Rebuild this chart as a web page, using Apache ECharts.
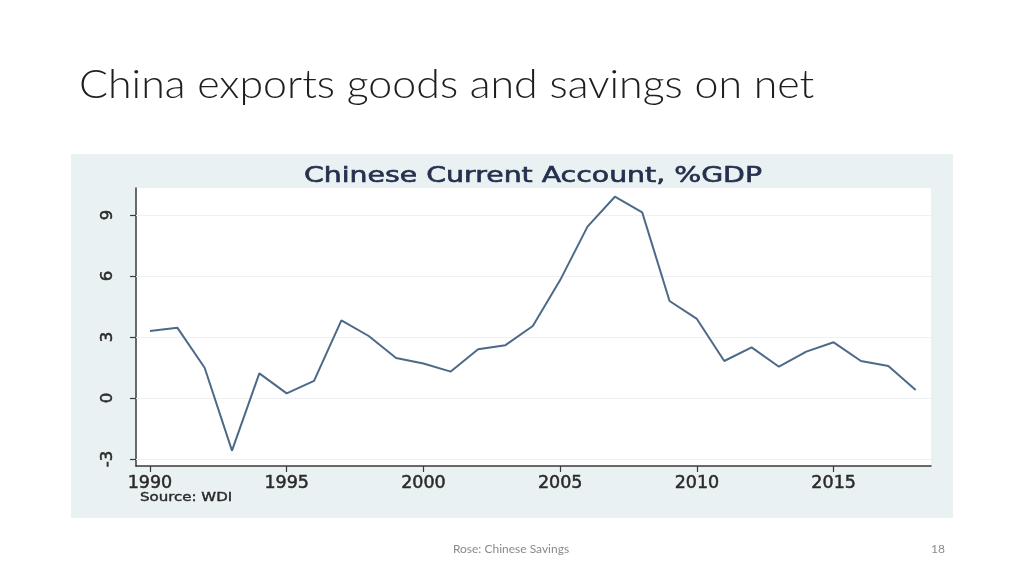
<!DOCTYPE html>
<html>
<head>
<meta charset="utf-8">
<script src="https://cdn.jsdelivr.net/npm/echarts@6/dist/echarts.min.js"></script>
<style>
html,body{margin:0;padding:0;background:#fff;}
#c{width:1024px;height:576px;}
</style>
</head>
<body>
<div id="c"></div>
<script>
const years = [1990,1991,1992,1993,1994,1995,1996,1997,1998,1999,2000,2001,2002,2003,2004,2005,2006,2007,2008,2009,2010,2011,2012,2013,2014,2015,2016,2017,2018];
const currentAccount = [3.3,3.46,1.49,-2.59,1.21,0.23,0.84,3.82,3.05,1.97,1.7,1.3,2.4,2.6,3.54,5.8,8.43,9.9,9.13,4.77,3.89,1.82,2.49,1.54,2.28,2.74,1.82,1.57,0.39];
const xTicks = [1990,1995,2000,2005,2010,2015];
const yTicks = [-3,0,3,6,9];
const slideTitle = 'China exports goods and savings on net';
const chartTitle = 'Chinese Current Account, %GDP';
const sourceNote = 'Source: WDI';
const footerText = 'Rose: Chinese Savings';
const pageNumber = '18';

const chart = echarts.init(document.getElementById('c'), null, {renderer:'canvas'});
const option = {
  animation: false,
  backgroundColor: '#ffffff',
  graphic: [
    {type:'rect', shape:{x:71,y:154,width:882,height:364}, style:{fill:'#eaf1f3'}, z:-10},
    {type:'text', x:79, y:85, originX:0, originY:0, scaleX:1.1, style:{text:slideTitle, font:'300 39px Lato', fill:'#1e1e1e', align:'left', verticalAlign:'middle'}},
    {type:'text', x:533, y:177, originX:0, originY:0, scaleX:1.35, style:{text:chartTitle, font:'21px "DejaVu Sans"', fill:'#24304d', stroke:'#24304d', lineWidth:0.6, align:'center', verticalAlign:'middle'}},
    {type:'text', x:140, y:498, originX:0, originY:0, scaleX:1.25, style:{text:sourceNote, font:'12px "DejaVu Sans"', fill:'#2a2a2a', stroke:'#2a2a2a', lineWidth:0.4, align:'left', verticalAlign:'middle'}},
    {type:'text', x:511, y:549, style:{text:footerText, font:'12px Lato', fill:'#8a8a8a', align:'center', verticalAlign:'middle'}},
    {type:'text', x:938, y:549, style:{text:pageNumber, font:'12px Lato', fill:'#8a8a8a', align:'center', verticalAlign:'middle'}}
  ],
  grid: {left:136, top:188, width:795, height:278, show:true, backgroundColor:'#ffffff', borderWidth:0, containLabel:false},
  xAxis: {
    type:'value', min:1989.49, max:2018.56,
    axisLine:{show:true, onZero:false, lineStyle:{color:'#3a3a3a', width:1.5}},
    axisTick:{show:true, length:6, customValues:xTicks, lineStyle:{color:'#3a3a3a', width:1.2}},
    axisLabel:{customValues:xTicks, formatter:v=>String(v), margin:8, color:'#2a2a2a', textBorderColor:'#2a2a2a', textBorderWidth:0.5, fontFamily:'DejaVu Sans', fontSize:17.5},
    splitLine:{show:false}
  },
  yAxis: {
    type:'value', min:-3.344, max:10.33,
    axisLine:{show:true, onZero:false, lineStyle:{color:'#3a3a3a', width:1.5}},
    axisTick:{show:true, length:6, customValues:yTicks, lineStyle:{color:'#3a3a3a', width:1.2}},
    axisLabel:{customValues:yTicks, formatter:v=>String(v), rotate:90, margin:20, color:'#2a2a2a', textBorderColor:'#2a2a2a', textBorderWidth:0.5, fontFamily:'DejaVu Sans', fontSize:16.5},
    splitLine:{show:false}
  },
  series: [
    {
      type:'line', name:'grid', silent:true, data:[], symbol:'none',
      markLine:{silent:true, symbol:'none', label:{show:false}, lineStyle:{color:'#edf1f4', width:1.2, type:'solid'}, data: yTicks.map(v=>({yAxis:v}))}
    },
    {
      type:'line', name:'Current account', symbol:'none',
      data: years.map((y,i)=>[y,currentAccount[i]]),
      lineStyle:{color:'#4c6a88', width:2}, z:5
    }
  ]
};
chart.setOption(option);
</script>
</body>
</html>
